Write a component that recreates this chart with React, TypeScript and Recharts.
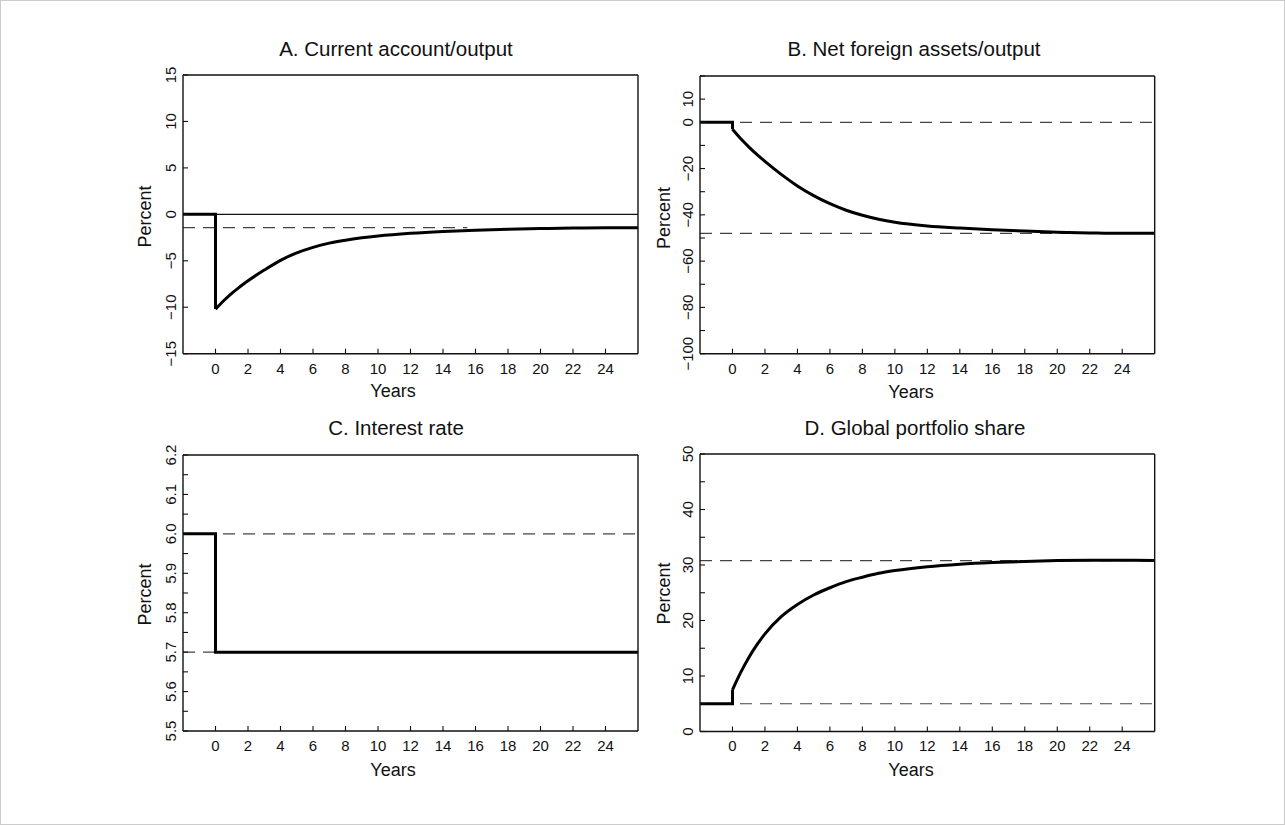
import React from 'react';
import { LineChart, Line, XAxis, YAxis, ReferenceLine } from 'recharts';

const FONT = '"Liberation Sans", Arial, Helvetica, sans-serif';

// shared x axis
const xDomain: [number, number] = [-2, 26];
const yearTicks = [0, 2, 4, 6, 8, 10, 12, 14, 16, 18, 20, 22, 24];

// common curve years
const curveYears = [0, 0.5, 1, 1.5, 2, 3, 4, 5, 6, 7, 8, 9, 10, 12, 14, 16, 18, 20, 22, 24, 26];

// A. Current account/output
const caStepYears = [-2, 0, 0];
const caStepValues = [0, 0, -10.2];
const caValues = [-10.2, -9.3, -8.5, -7.8, -7.15, -6.0, -4.95, -4.15, -3.55, -3.1, -2.78, -2.53, -2.33, -2.04, -1.84, -1.7, -1.6, -1.53, -1.48, -1.45, -1.45];
const caSteady = -1.43;
const caDashEnd = 15.5;
const caYTicks = [-15, -10, -5, 0, 5, 10, 15];
const caYLabels = [-15, -10, -5, 0, 5, 10, 15];

// B. Net foreign assets/output
const nfaStepYears = [-2, 0, 0];
const nfaStepValues = [0, 0, -3];
const nfaValues = [-3, -7.0, -10.6, -13.9, -16.9, -22.5, -27.5, -31.7, -35.2, -38.0, -40.2, -41.9, -43.2, -44.8, -45.7, -46.4, -47.0, -47.5, -47.8, -48, -48];
const nfaRefs = [0, -48];
const nfaYTicks = [-100, -90, -80, -70, -60, -50, -40, -30, -20, -10, 0, 10, 20];
const nfaYLabels = [-100, -80, -60, -40, -20, 0, 10];

// C. Interest rate
const irYears = [-2, 0, 0, 26];
const irValues = [6.0, 6.0, 5.7, 5.7];
const irRefs = [6.0, 5.7];
const irYTicks = [5.5, 5.55, 5.6, 5.65, 5.7, 5.75, 5.8, 5.85, 5.9, 5.95, 6.0, 6.05, 6.1, 6.15, 6.2];
const irYLabels = [5.5, 5.6, 5.7, 5.8, 5.9, 6.0, 6.1, 6.2];

// D. Global portfolio share
const gpsStepYears = [-2, 0, 0];
const gpsStepValues = [5, 5, 7.5];
const gpsValues = [7.5, 10.6, 13.3, 15.6, 17.6, 20.7, 22.9, 24.6, 25.9, 27.0, 27.8, 28.5, 29.0, 29.7, 30.15, 30.45, 30.65, 30.8, 30.85, 30.85, 30.8];
const gpsRefs = [30.8, 5];
const gpsYTicks = [0, 5, 10, 15, 20, 25, 30, 35, 40, 45, 50];
const gpsYLabels = [0, 10, 20, 30, 40, 50];

const titles = ['A. Current account/output', 'B. Net foreign assets/output', 'C. Interest rate', 'D. Global portfolio share'];

const zip = (xs: number[], ys: number[]) => xs.map((x, i) => ({ x, y: ys[i] }));

const fmtInt = (v: number) => (v < 0 ? '\u2212' + Math.abs(v) : String(v));
const fmtDec = (v: number) => v.toFixed(1);

type Box = { L: number; T: number; R: number; B: number };

type PanelProps = {
  box: Box;
  yDomain: [number, number];
  yTicks: number[];
  yLabels: number[];
  fmt: (v: number) => string;
  lines: { data: { x: number; y: number }[]; curve: boolean }[];
  refs: { y: number; dashed: boolean; xEnd?: number }[];
};

const ML = 60, MT = 10, MR = 12, MB = 32;
const AX = '#111';

function Panel({ box, yDomain, yTicks, yLabels, fmt, lines, refs }: PanelProps) {
  const pw = box.R - box.L;
  const ph = box.B - box.T;
  const w = pw + ML + MR;
  const h = ph + MT + MB;
  const bottom = MT + ph;
  const labelSet = yLabels.map((v) => v.toFixed(3));

  const XTick = (p: any) => (
    <text x={p.x} y={bottom + 20} textAnchor="middle" fontSize={15} fill="#111" fontFamily={FONT}>
      {p.payload.value}
    </text>
  );
  const YTick = (p: any) => {
    const v = p.payload.value as number;
    if (!labelSet.includes(v.toFixed(3))) return <g />;
    const bx = ML - 7.3;
    return (
      <text
        x={bx}
        y={p.y}
        transform={`rotate(-90 ${bx} ${p.y})`}
        textAnchor="middle"
        fontSize={15}
        fill="#111"
        fontFamily={FONT}
      >
        {fmt(v)}
      </text>
    );
  };

  const axisLine = { stroke: AX, strokeWidth: 1.4 };
  const tickLine = { stroke: AX, strokeWidth: 1.1 };

  return (
    <div style={{ position: 'absolute', left: box.L - ML, top: box.T - MT }}>
      <LineChart width={w} height={h} margin={{ top: MT, left: ML, right: MR, bottom: MB }}>
        <XAxis
          xAxisId="b"
          type="number"
          dataKey="x"
          domain={xDomain}
          allowDataOverflow
          ticks={yearTicks}
          interval={0}
          orientation="bottom"
          mirror
          height={20}
          tickSize={5}
          tick={XTick}
          axisLine={axisLine}
          tickLine={tickLine}
        />
        <XAxis
          xAxisId="t"
          type="number"
          dataKey="x"
          domain={xDomain}
          allowDataOverflow
          ticks={yearTicks}
          interval={0}
          orientation="top"
          mirror
          height={20}
          tickSize={5}
          tick={false}
          axisLine={axisLine}
          tickLine={tickLine}
        />
        <YAxis
          yAxisId="l"
          type="number"
          domain={yDomain}
          allowDataOverflow
          ticks={yTicks}
          interval={0}
          orientation="left"
          mirror
          width={20}
          tickSize={5}
          tick={YTick}
          axisLine={axisLine}
          tickLine={tickLine}
        />
        <YAxis
          yAxisId="r"
          type="number"
          domain={yDomain}
          allowDataOverflow
          ticks={yTicks}
          interval={0}
          orientation="right"
          mirror
          width={20}
          tickSize={5}
          tick={false}
          axisLine={axisLine}
          tickLine={tickLine}
        />
        {refs.map((r, i) =>
          r.xEnd !== undefined ? (
            <ReferenceLine
              key={'r' + i}
              xAxisId="b"
              yAxisId="l"
              segment={[{ x: xDomain[0], y: r.y }, { x: r.xEnd, y: r.y }]}
              stroke="#444"
              strokeWidth={1.2}
              strokeDasharray={r.dashed ? '12 8' : undefined}
            />
          ) : (
            <ReferenceLine
              key={'r' + i}
              xAxisId="b"
              yAxisId="l"
              y={r.y}
              stroke={r.dashed ? '#444' : '#111'}
              strokeWidth={r.dashed ? 1.2 : 1.3}
              strokeDasharray={r.dashed ? '12 8' : undefined}
            />
          )
        )}
        {lines.map((l, i) => (
          <Line
            key={'l' + i}
            xAxisId="b"
            yAxisId="l"
            data={l.data}
            dataKey="y"
            type={l.curve ? 'monotone' : 'linear'}
            stroke="#000"
            strokeWidth={3}
            dot={false}
            activeDot={false}
            isAnimationActive={false}
          />
        ))}
      </LineChart>
    </div>
  );
}

const boxA: Box = { L: 181.7, T: 74, R: 636.7, B: 352.7 };
const boxB: Box = { L: 699.3, T: 75, R: 1154, B: 352.7 };
const boxC: Box = { L: 181.7, T: 453.5, R: 636.7, B: 729.5 };
const boxD: Box = { L: 699.3, T: 452.5, R: 1154, B: 730 };

export default function App() {
  const leftCx = 392;
  const rightCx = 910;
  return (
    <div
      style={{
        position: 'absolute',
        left: 0,
        top: 0,
        width: 1285,
        height: 825,
        background: '#fff',
        boxSizing: 'border-box',
        border: '1px solid #cccccc',
        overflow: 'hidden',
        fontFamily: FONT,
      }}
    >
      <Panel
        box={boxA}
        yDomain={[-15, 15]}
        yTicks={caYTicks}
        yLabels={caYLabels}
        fmt={fmtInt}
        refs={[
          { y: 0, dashed: false },
          { y: caSteady, dashed: true, xEnd: caDashEnd },
        ]}
        lines={[
          { data: zip(caStepYears, caStepValues), curve: false },
          { data: zip(curveYears, caValues), curve: true },
        ]}
      />
      <Panel
        box={boxB}
        yDomain={[-100, 20]}
        yTicks={nfaYTicks}
        yLabels={nfaYLabels}
        fmt={fmtInt}
        refs={nfaRefs.map((y) => ({ y, dashed: true }))}
        lines={[
          { data: zip(nfaStepYears, nfaStepValues), curve: false },
          { data: zip(curveYears, nfaValues), curve: true },
        ]}
      />
      <Panel
        box={boxC}
        yDomain={[5.5, 6.2]}
        yTicks={irYTicks}
        yLabels={irYLabels}
        fmt={fmtDec}
        refs={irRefs.map((y) => ({ y, dashed: true }))}
        lines={[{ data: zip(irYears, irValues), curve: false }]}
      />
      <Panel
        box={boxD}
        yDomain={[0, 50]}
        yTicks={gpsYTicks}
        yLabels={gpsYLabels}
        fmt={fmtInt}
        refs={gpsRefs.map((y) => ({ y, dashed: true }))}
        lines={[
          { data: zip(gpsStepYears, gpsStepValues), curve: false },
          { data: zip(curveYears, gpsValues), curve: true },
        ]}
      />
      <svg
        width={1285}
        height={825}
        style={{ position: 'absolute', left: 0, top: 0, pointerEvents: 'none' }}
        fontFamily={FONT}
        fill="#111"
      >
        <text x={395} y={55} fontSize={20.5} textAnchor="middle">{titles[0]}</text>
        <text x={913} y={55} fontSize={20.5} textAnchor="middle">{titles[1]}</text>
        <text x={395} y={434} fontSize={20.5} textAnchor="middle">{titles[2]}</text>
        <text x={914} y={434} fontSize={20.5} textAnchor="middle">{titles[3]}</text>

        <text x={leftCx} y={395.5} fontSize={18} textAnchor="middle">Years</text>
        <text x={rightCx} y={396.5} fontSize={18} textAnchor="middle">Years</text>
        <text x={leftCx} y={774.5} fontSize={18} textAnchor="middle">Years</text>
        <text x={rightCx} y={774.5} fontSize={18} textAnchor="middle">Years</text>

        <text x={149.5} y={215.5} fontSize={18} textAnchor="middle" transform="rotate(-90 149.5 215.5)">Percent</text>
        <text x={669} y={217} fontSize={18} textAnchor="middle" transform="rotate(-90 669 217)">Percent</text>
        <text x={149.5} y={593.5} fontSize={18} textAnchor="middle" transform="rotate(-90 149.5 593.5)">Percent</text>
        <text x={669} y={592.5} fontSize={18} textAnchor="middle" transform="rotate(-90 669 592.5)">Percent</text>
      </svg>
    </div>
  );
}
